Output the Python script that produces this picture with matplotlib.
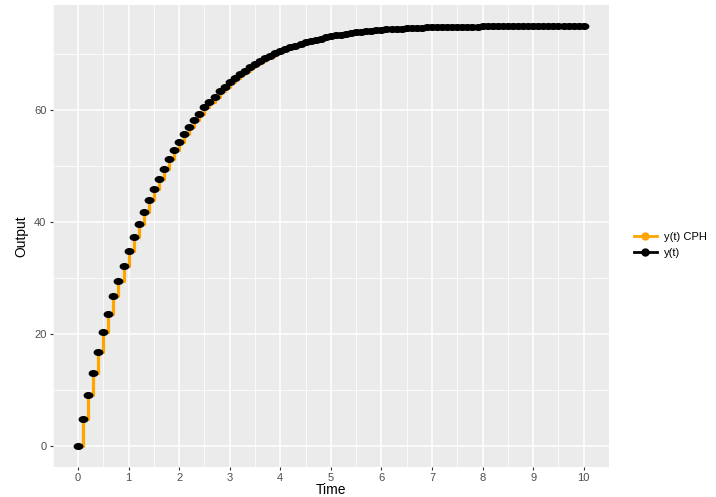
import numpy as np
import matplotlib
matplotlib.use('Agg')
import matplotlib.pyplot as plt
from matplotlib.lines import Line2D
from matplotlib.path import Path

# time grid (sampling every 0.1 s) and the output
time = np.linspace(0, 10, 101)
output = [
    0.0, 4.8, 9.1, 13.1, 16.8, 20.3, 23.6, 26.7, 29.5, 32.2,
    34.8, 37.3, 39.6, 41.8, 43.9, 45.9, 47.7, 49.5, 51.2, 52.8,
    54.3, 55.7, 57.0, 58.2, 59.35, 60.45, 61.45, 62.4, 63.3, 64.15,
    64.95, 65.68, 66.37, 67.02, 67.63, 68.2, 68.73, 69.22, 69.68, 70.11,
    70.5, 70.86, 71.19, 71.5, 71.79, 72.06, 72.31, 72.54, 72.75, 72.95,
    73.13, 73.3, 73.45, 73.59, 73.72, 73.84, 73.95, 74.05, 74.14, 74.22,
    74.3, 74.37, 74.43, 74.49, 74.54, 74.59, 74.63, 74.67, 74.7, 74.73,
    74.76, 74.78, 74.8, 74.82, 74.84, 74.86, 74.87, 74.88, 74.89, 74.9,
    74.91, 74.92, 74.93, 74.94, 74.94, 74.95, 74.95, 74.96, 74.96, 74.97,
    74.97, 74.97, 74.98, 74.98, 74.98, 74.98, 74.99, 74.99, 74.99, 74.99,
    74.99,
]
series = ['y(t) CPH', 'y(t)']
colors = ['#FFA500', 'black']
xticks = list(range(0, 11))
yticks = [0, 20, 40, 60]

plt.rcParams['font.family'] = ['Liberation Sans', 'DejaVu Sans']

# slightly flattened dot, like the stretched ggplot points
circ = Path.unit_circle()
ell = Path(circ.vertices * [1.0, 0.72], circ.codes)

fig = plt.figure(figsize=(7.16, 4.97), dpi=100)
ax = fig.add_axes([0.0736, 0.0604, 0.777, 0.9296])
ax.set_facecolor('#EBEBEB')

ax.step(time, output, where='post', color=colors[0], lw=2.3, zorder=3)
ax.scatter(time, output, marker=ell, s=50, color=colors[1], lw=0,
           zorder=4)

ax.set_xlim(-0.5, 10.5)
ax.set_ylim(-3.75, 78.75)
ax.set_xticks(xticks)
ax.set_yticks(yticks)
ax.set_xticks(np.arange(-0.5, 10.6, 1.0), minor=True)
ax.set_yticks([10, 30, 50, 70], minor=True)
ax.grid(which='major', color='white', lw=1.1)
ax.grid(which='minor', color='white', lw=0.55)
ax.set_axisbelow(True)
for s in ax.spines.values():
    s.set_visible(False)
ax.tick_params(which='major', length=2.5, width=0.8, color='#333333',
               labelcolor='#4D4D4D', labelsize=8, pad=2)
ax.tick_params(which='minor', length=0)

ax.set_xlabel('Time', fontsize=10, labelpad=0)
ax.set_ylabel('Output', fontsize=10, labelpad=4)

handles = [Line2D([], [], color=c, lw=2, marker='o', ms=5) for c in colors]
leg = fig.legend(handles, series, loc='center left',
                 bbox_to_anchor=(0.872, 0.507), frameon=False, fontsize=8,
                 handlelength=2.0, handletextpad=0.7, labelspacing=0.6)

fig.savefig('out.png', dpi=100)
